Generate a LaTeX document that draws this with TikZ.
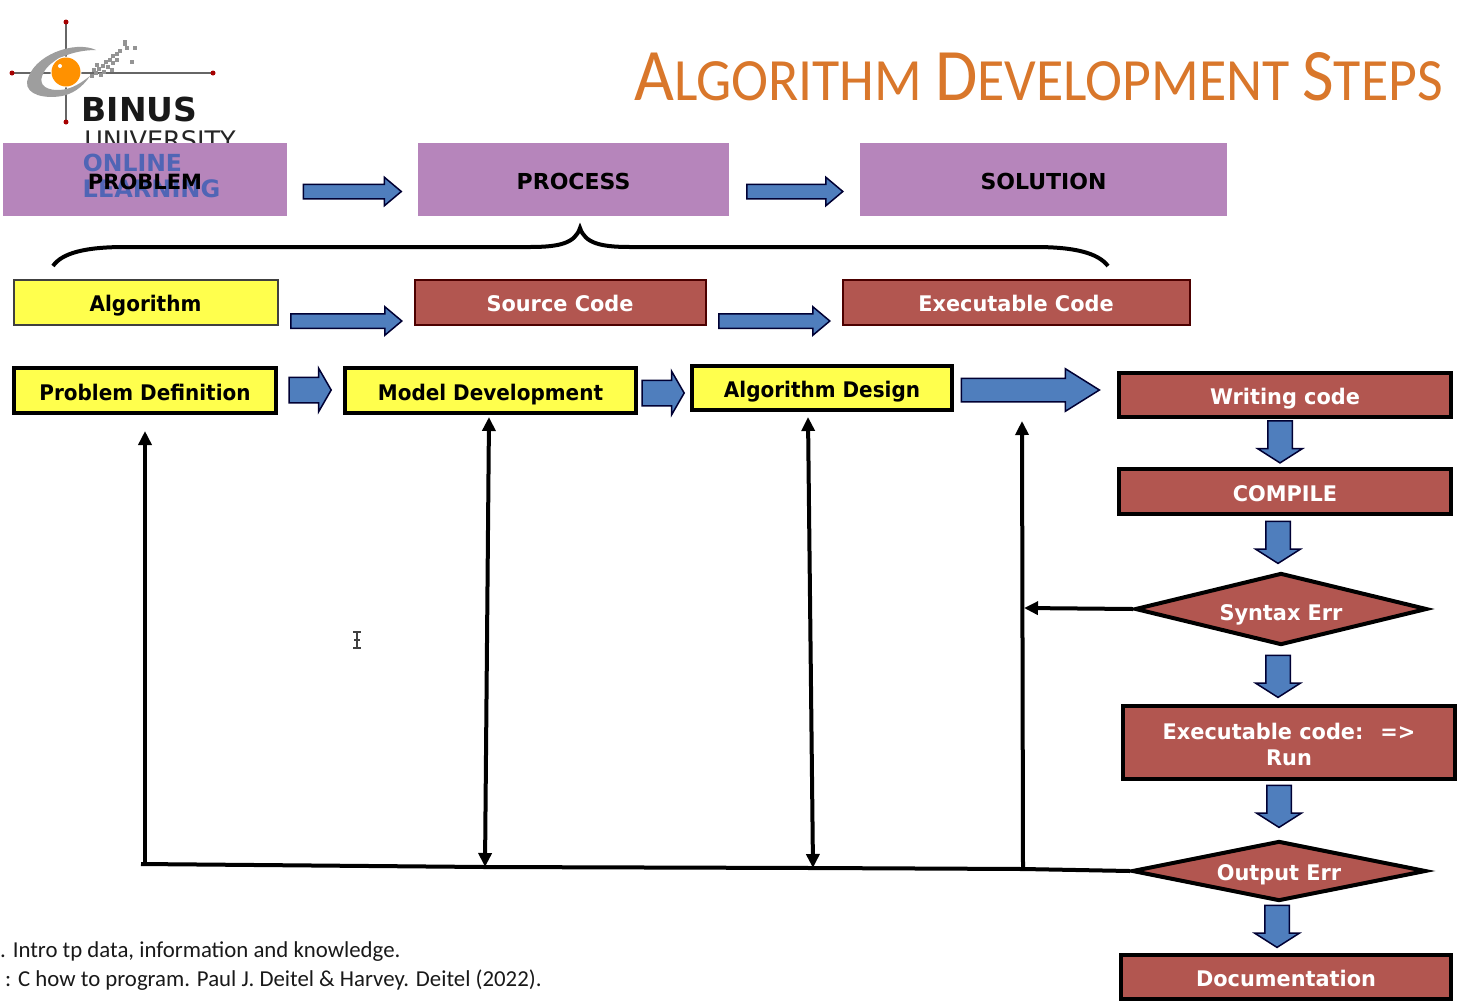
\documentclass[tikz,border=0pt]{standalone}
\usepackage{fontspec}
\usetikzlibrary{shapes.geometric,shapes.arrows,arrows.meta}
\newfontfamily\boxfont{DejaVu Sans Bold}
\newfontfamily\yelfont[FakeStretch=0.93]{DejaVu Sans Bold}
\newfontfamily\redfont[FakeStretch=0.97]{DejaVu Sans Bold}
\newfontfamily\titlefont[FakeStretch=0.93]{Carlito}
\setmainfont{Carlito}
\definecolor{purpbox}{HTML}{B685BB}
\definecolor{yelbox}{HTML}{FFFF4D}
\definecolor{redbox}{HTML}{B25650}
\definecolor{arrowblue}{HTML}{4F7EBD}
\definecolor{titleorange}{HTML}{D9772B}
\definecolor{logoblue}{HTML}{5065B5}
\tikzset{
  lbl/.style={align=center,inner sep=0pt},
  oneln/.style={text height=19pt,text depth=0pt},
  capsfont/.style={font=\boxfont\fontsize{22}{26}\selectfont},
  yelfnt/.style={font=\yelfont\fontsize{21.5}{26}\selectfont},
  redfnt/.style={font=\redfont\fontsize{21.5}{26}\selectfont},
  purplebox/.style={lbl,capsfont,oneln,rectangle,fill=purpbox,text=black},
  yelthin/.style={lbl,yelfnt,oneln,rectangle,fill=yelbox,draw=black!75,line width=2pt,text=black},
  yelthick/.style={lbl,yelfnt,oneln,rectangle,fill=yelbox,draw=black,line width=4pt,text=black},
  redthin/.style={lbl,redfnt,oneln,rectangle,fill=redbox,draw=black!70!red,line width=2pt,text=white},
  redthick/.style={lbl,redfnt,rectangle,fill=redbox,draw=black,line width=4pt,text=white},
  reddiamond/.style={lbl,redfnt,oneln,diamond,aspect=4,fill=redbox,draw=black,line width=4pt,text=white},
  blockbase/.style={single arrow,inner xsep=0pt,fill=arrowblue,draw=black!80!blue,line width=1.5pt,anchor=center},
  slimarrow/.style={blockbase,inner ysep=6.5pt,single arrow head extend=7pt,single arrow tip angle=80,minimum height=#1},
  stubarrow/.style={blockbase,inner ysep=12pt,single arrow head extend=9pt,single arrow tip angle=120,minimum height=#1},
  bigarrow/.style={blockbase,inner ysep=11pt,single arrow head extend=9.5pt,single arrow tip angle=64,minimum height=#1},
  downarrow/.style={blockbase,rotate=-90,inner ysep=11.5pt,single arrow head extend=10pt,single arrow tip angle=115,minimum height=42pt},
  fb/.style={line width=4pt,draw=black},
}
\begin{document}
\begin{tikzpicture}[x=1pt,y=-1pt]
\useasboundingbox (0,0) rectangle (1471,1004);
\fill[white] (0,0) rectangle (1471,1004);

% logo
\draw[line width=2pt,black!60] (12,73) -- (213,73) (66,22) -- (66,122);
\foreach \p in {(12,73),(213,73),(66,22),(66,122)} \fill[red!65!black] \p circle (2.5pt);
\fill[black!38] (96,50) .. controls (75,40) and (32,55) .. (27,82)
  .. controls (26,95) and (45,99) .. (62,96)
  .. controls (72,94) and (82,88) .. (90,76)
  .. controls (82,82) and (72,90) .. (58,90)
  .. controls (42,90) and (38,82) .. (44,72)
  .. controls (50,60) and (72,50) .. (96,50) -- cycle;
\fill[white] (66,72) circle (15.5pt);
\fill[orange!80!yellow!95!red] (66,72) circle (14.5pt);
\fill[white] (60,66) circle (2pt);
\foreach \p in {(92,76),(96,73),(99,69),(103,66),(106,62),(110,60),(113,56),(117,54),(120,51),(97,65),(104,72),(108,67),(113,63),(117,60),(101,75),(94,70),(125,42),(127,48),(135,48),(132,62),(125,44),(112,70)}
  \fill[black!42] \p ++(-1.8,-1.8) rectangle ++(3.6,3.6);
\node[inner sep=0pt,anchor=center,text=black!90] (binus) at (139.5,109) {\fontsize{33}{33}\selectfont\fontspec{DejaVu Sans Bold}BINUS};
\node[inner sep=0pt,anchor=center,text=black!85] (univ) at (160,140) {\fontsize{25.5}{25.5}\selectfont\fontspec{DejaVu Sans}UNIVERSITY};

% title
\node[anchor=base east,inner sep=0pt,text=titleorange] (title) at (1443,100) {\titlefont\fontsize{74}{76}\selectfont A\fontsize{60}{76}\selectfont LGORITHM \fontsize{74}{76}\selectfont D\fontsize{60}{76}\selectfont EVELOPMENT \fontsize{74}{76}\selectfont S\fontsize{60}{76}\selectfont TEPS};

% top row
\node[purplebox,minimum width=284pt,minimum height=73pt] (problembg) at (145,179.5) {};
\node[inner sep=0pt,anchor=center,text=logoblue] (online) at (132.5,163) {\fontsize{23.5}{25}\selectfont\fontspec{DejaVu Sans Bold}ONLINE};
\node[inner sep=0pt,anchor=center,text=logoblue] (learning) at (151.5,189) {\fontsize{24}{25}\selectfont\fontspec{DejaVu Sans Bold}LEARNING};
\node[lbl,oneln,text=black,font=\boxfont\fontsize{21}{26}\selectfont] (problem) at (145,179.5) {PROBLEM};
\node[purplebox,minimum width=311pt,minimum height=73pt] (process) at (573.5,179.5) {PROCESS};
\node[purplebox,minimum width=367pt,minimum height=73pt] (solution) at (1043.5,179.5) {SOLUTION};
\node[slimarrow=98pt] (a1) at (348,191.5) {};
\node[slimarrow=96pt] (a2) at (790.5,191.5) {};

% brace
\coordinate (bl) at (53,266);
\coordinate (bm) at (580,228);
\coordinate (br) at (1108,266);
\draw[line width=4pt] (bl) .. controls (62,253) and (85,247) .. (125,247) -- (530,247)
  .. controls (560,247) and (575,243) .. (bm)
  .. controls (585,243) and (600,247) .. (630,247) -- (1035,247)
  .. controls (1075,247) and (1098,253) .. (br);

% second row
\node[yelthin,minimum width=264pt,minimum height=45pt] (algo) at (145.5,302) {Algorithm};
\node[redthin,minimum width=291pt,minimum height=45pt] (src) at (560,302) {Source Code};
\node[redthin,minimum width=347pt,minimum height=45pt] (exe) at (1016,302) {Executable Code};
\node[slimarrow=111pt] (a3) at (342,321) {};
\node[slimarrow=111pt] (a4) at (770,321) {};

% third row
\node[yelthick,minimum width=262pt,minimum height=45pt] (pd) at (145,390.5) {Problem Definition};
\node[yelthick,minimum width=291pt,minimum height=45pt] (md) at (490.5,390.5) {Model Development};
\node[yelthick,minimum width=260pt,minimum height=44pt] (ad) at (822,388) {Algorithm Design};
\node[stubarrow=42pt] (a5) at (306.5,390) {};
\node[stubarrow=42pt] (a6) at (659.5,393) {};
\node[bigarrow=138pt] (a7) at (1021,390) {};

% right column
\node[redthick,oneln,minimum width=332pt,minimum height=44pt] (write) at (1285,395) {Writing code};
\node[redthick,oneln,minimum width=332pt,minimum height=45pt] (compile) at (1285,491.5) {COMPILE};
\node[reddiamond,text height=22pt,minimum width=292pt,minimum height=72pt] (syntax) at (1281,609) {Syntax Err};
\node[redthick,minimum width=332pt,minimum height=73pt] (run) at (1289,742.5) {\rule{0pt}{20pt}Executable code: \ =>\\Run};
\node[reddiamond,minimum width=294pt,minimum height=60pt] (output) at (1279,871) {Output Err};
\node[redthick,oneln,minimum width=330pt,minimum height=44pt] (doc) at (1286,977) {Documentation};
\node[downarrow] (d1) at (1280,438) {};
\node[downarrow] (d2) at (1278,538.5) {};
\node[downarrow] (d3) at (1278,672.5) {};
\node[downarrow] (d4) at (1279,802.5) {};
\node[downarrow] (d5) at (1277,922.5) {};

% feedback
\coordinate (busl) at (141,864);
\coordinate (b0) at (145,864);
\coordinate (j1) at (485,867);
\coordinate (j2) at (813,868);
\coordinate (j3) at (1023,869);
\coordinate (t0) at (145,431);
\coordinate (t1) at (489,417);
\coordinate (t2) at (808,417);
\coordinate (t3) at (1022,421);
\coordinate (s3) at (1024,608);
\draw[fb] (output.west) -- (j3) -- (j2) -- (j1) -- (busl);
\draw[fb,-{Triangle[length=14pt,width=13pt]}] (b0) -- (t0);
\draw[fb,{Triangle[length=14pt,width=13pt]}-{Triangle[length=14pt,width=13pt]}] (j1) -- (t1);
\draw[fb,{Triangle[length=14pt,width=13pt]}-{Triangle[length=14pt,width=13pt]}] (j2) -- (t2);
\draw[fb,-{Triangle[length=14pt,width=13pt]}] (j3) -- (t3);
\draw[fb,-{Triangle[length=14pt,width=13pt]}] (syntax.west) -- (s3);

% footer
\node[anchor=base west,inner sep=0pt,text=black!90] (f1) at (0,957) {\fontsize{22.8}{26}\selectfont . Intro tp data, information and knowledge.};
\node[anchor=base west,inner sep=0pt,text=black!90] (f2) at (5,986) {\fontsize{22.8}{26}\selectfont : C how to program. Paul J. Deitel \& Harvey. Deitel (2022).};

% I-beam cursor
\draw[line width=1.2pt,black!75] (357,632) -- (357,648) (353,632) -- (361,632) (353,648) -- (361,648) (354,640) -- (360,640);
\end{tikzpicture}
\end{document}
